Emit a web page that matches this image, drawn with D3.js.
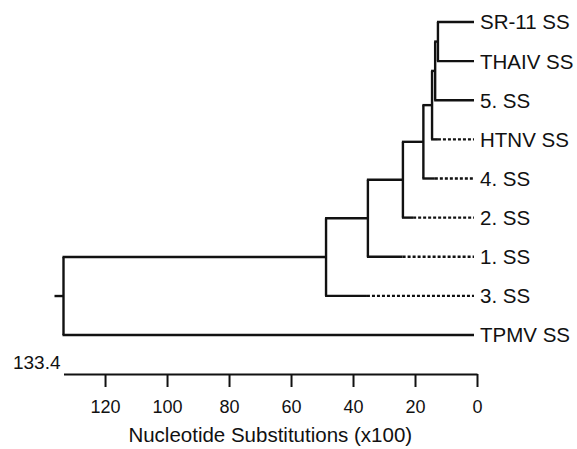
<!DOCTYPE html>
<html>
<head>
<meta charset="utf-8">
<title>Nucleotide substitution tree</title>
<script src="https://cdn.jsdelivr.net/npm/d3@7"></script>
<style>
  body { margin: 0; background: #fff; }
  svg { font-family: "Liberation Sans", Arial, sans-serif; }
  .branch { fill: none; stroke: #111; stroke-width: 2.4px; }
  .dotted { fill: none; stroke: #111; stroke-width: 2.4px; stroke-dasharray: 3 2; }
  .leaf { font-size: 20.5px; fill: #111; }
  .axis path, .axis line { stroke: #111; stroke-width: 2px; }
  .axis text { font-size: 18px; fill: #111; font-family: "Liberation Sans", Arial, sans-serif; }
</style>
</head>
<body>
<svg width="577" height="449"></svg>
<script>
// leaves, top to bottom
var leaves = ["SR-11 SS", "THAIV SS", "5. SS", "HTNV SS", "4. SS", "2. SS", "1. SS", "3. SS", "TPMV SS"];
// leaf branch is drawn solid down to this height, dotted after it (null = all solid)
var solidTo = [null, null, null, 12.6, 13.6, 20.6, 24, 35.5, null];

// internal nodes, with their heights (x100 substitutions) and children
var nodeNames = ["G", "F", "E", "D", "C", "B", "A", "root"];
var nodeHeights = [12.6, 13.5, 14.5, 17.3, 23.9, 35.2, 48.7, 133.4];
var nodeChildren = [
  ["SR-11 SS", "THAIV SS"],
  ["G", "5. SS"],
  ["F", "HTNV SS"],
  ["E", "4. SS"],
  ["D", "2. SS"],
  ["C", "1. SS"],
  ["B", "3. SS"],
  ["A", "TPMV SS"]
];

var tickValues = [120, 100, 80, 60, 40, 20, 0];
var axisTitle = "Nucleotide Substitutions (x100)";

// parent table for stratify
var rows = [{ id: "root", parent: null }];
nodeChildren.forEach(function (kids, i) {
  kids.forEach(function (k) { rows.push({ id: k, parent: nodeNames[i] }); });
});
var root = d3.stratify().id(function (d) { return d.id; }).parentId(function (d) { return d.parent; })(rows);

var height = {};
nodeNames.forEach(function (n, i) { height[n] = nodeHeights[i]; });
leaves.forEach(function (n) { height[n] = 0; });

var x = d3.scaleLinear().domain([133.4, 0]).range([63.5, 477]);
var y = d3.scalePoint().domain(leaves).range([22, 335]);

// node y = middle of its children
root.eachAfter(function (d) {
  d.h = height[d.id];
  d.px = x(d.h);
  d.py = d.children ? (d.children[0].py + d.children[d.children.length - 1].py) / 2 : y(d.id);
});

var svg = d3.select("svg");
var g = svg.append("g");

// vertical connectors
g.selectAll(".vert")
  .data(root.descendants().filter(function (d) { return d.children; }))
  .enter().append("path")
  .attr("class", "branch")
  .attr("d", function (d) {
    var a = d.children[0], b = d.children[d.children.length - 1];
    return "M" + d.px + "," + a.py + "V" + b.py;
  });

// horizontal branches
root.descendants().slice(1).forEach(function (d) {
  var end = d.children ? d.px : x(0) - 3;
  var i = leaves.indexOf(d.id);
  var s = (i >= 0 && solidTo[i] != null) ? x(solidTo[i]) : end;
  g.append("path").attr("class", "branch")
    .attr("d", "M" + (d.parent.px - 1) + "," + d.py + "H" + s);
  if (s < end) {
    g.append("path").attr("class", "dotted")
      .attr("d", "M" + s + "," + d.py + "H" + end);
  }
});

// root stub
g.append("path").attr("class", "branch")
  .attr("d", "M" + (root.px - 9) + "," + root.py + "H" + root.px);

// leaf labels
g.selectAll(".leaf")
  .data(root.leaves())
  .enter().append("text")
  .attr("class", "leaf")
  .attr("x", x(0) + 3)
  .attr("y", function (d) { return d.py; })
  .attr("dy", "0.36em")
  .text(function (d) { return d.id; });

// axis
var axisY = 374;
var axis = svg.append("g")
  .attr("class", "axis")
  .attr("transform", "translate(0," + axisY + ")")
  .call(d3.axisBottom(x).tickValues(tickValues).tickSize(13).tickSizeOuter(0).tickPadding(13).tickFormat(d3.format("d")));

svg.append("text")
  .attr("x", x(133.4) - 3)
  .attr("y", axisY - 5)
  .attr("text-anchor", "end")
  .attr("font-size", "19px")
  .attr("fill", "#111")
  .text("133.4");

svg.append("text")
  .attr("x", (x.range()[0] + x.range()[1]) / 2)
  .attr("y", 442)
  .attr("text-anchor", "middle")
  .attr("font-size", "20.5px")
  .attr("fill", "#111")
  .text(axisTitle);
</script>
</body>
</html>
